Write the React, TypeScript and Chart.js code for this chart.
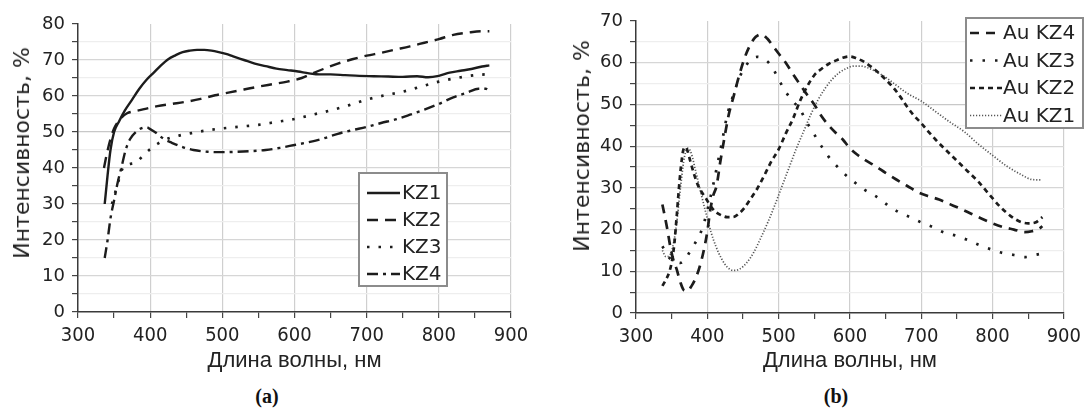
import React, { useEffect, useRef } from 'react';
import { Chart, registerables } from 'chart.js';

Chart.register(...registerables);

// ---------- (a) ----------
const kz1Wavelength = [337, 341, 345, 350, 357, 365, 375, 385, 395, 405, 415, 425, 435, 445, 455, 465, 475, 485, 495, 505, 515, 530, 545, 560, 575, 590, 605, 620, 635, 650, 670, 690, 710, 730, 750, 770, 785, 800, 815, 830, 845, 860, 870];
const kz1Intensity = [30, 38, 45, 50, 53, 56, 59, 62, 64.5, 66.5, 68.5, 70.2, 71.3, 72.2, 72.6, 72.8, 72.8, 72.6, 72.2, 71.7, 71, 70, 69, 68.3, 67.6, 67.2, 66.8, 66.3, 66, 66, 65.8, 65.6, 65.5, 65.4, 65.3, 65.5, 65.2, 65.6, 66.5, 67, 67.5, 68.2, 68.5];

const kz2Wavelength = [336, 340, 345, 350, 358, 368, 380, 395, 410, 430, 450, 470, 490, 510, 530, 550, 570, 590, 610, 625, 640, 660, 680, 700, 720, 740, 760, 780, 800, 820, 840, 860, 870];
const kz2Intensity = [40, 44, 48, 51, 53.5, 55.2, 55.8, 56.5, 57.2, 57.8, 58.4, 59.2, 60.2, 61, 61.8, 62.6, 63.3, 64, 65, 66.3, 67.5, 69, 70.2, 71.2, 72, 72.9, 73.8, 74.8, 75.8, 77, 77.6, 78, 78];

const kz3Wavelength = [347, 352, 357, 362, 370, 380, 393, 407, 425, 440, 460, 480, 500, 525, 550, 575, 600, 625, 650, 675, 700, 725, 750, 775, 800, 825, 850, 865];
const kz3Intensity = [30, 33.5, 37, 40, 41, 41.5, 44, 46.3, 48.2, 49, 49.8, 50.5, 51, 51.5, 52, 52.8, 53.6, 54.8, 56, 57.4, 59, 60.2, 61.2, 62.6, 64, 65, 65.8, 66];

const kz4Wavelength = [337, 341, 345, 350, 355, 360, 366, 372, 380, 390, 395, 400, 408, 418, 430, 445, 460, 480, 500, 520, 540, 560, 580, 600, 620, 640, 660, 680, 700, 720, 740, 760, 780, 800, 820, 840, 855, 865, 870];
const kz4Intensity = [15, 20, 26, 31, 36, 40, 45, 48, 50, 51.2, 51.3, 50.8, 49.8, 48.2, 47, 45.8, 45, 44.5, 44.4, 44.5, 44.7, 45, 45.6, 46.4, 47.2, 48.2, 49.5, 50.5, 51.4, 52.5, 53.5, 54.8, 56.2, 57.8, 59.6, 61, 62, 62, 61.5];

// ---------- (b) ----------
const auKz4Wavelength = [337, 340, 344, 348, 352, 357, 362, 367, 372, 378, 384, 390, 395, 400, 404, 408, 413, 418, 424, 430, 437, 444, 452, 460, 468, 476, 484, 492, 500, 510, 520, 530, 540, 550, 560, 570, 580, 590, 600, 610, 620, 635, 650, 665, 680, 695, 710, 725, 740, 755, 770, 785, 800, 815, 830, 845, 855, 865, 870];
const auKz4Intensity = [26, 23.5, 20, 16, 13, 10.5, 7.5, 5.5, 5.3, 6.5, 8.5, 11.5, 15, 19.5, 24.5, 28, 30.5, 36, 42, 47.5, 52, 56.5, 61, 64.2, 66.2, 66.8, 65.8, 64, 62.2, 60, 57.3, 54.8, 52.3, 50, 47.2, 45, 43.2, 41.6, 39.5, 38, 36.8, 35.3, 33.6, 32, 30.5, 29, 28, 27.2, 26.1, 25, 23.8, 22.6, 21.5, 20.6, 20, 19.4, 19.6, 20.2, 20.8];

const auKz3Wavelength = [337, 342, 348, 355, 362, 368, 375, 382, 390, 396, 402, 408, 414, 420, 428, 436, 446, 455, 463, 470, 478, 486, 494, 502, 510, 520, 530, 540, 550, 560, 570, 580, 592, 606, 620, 638, 652, 668, 684, 700, 716, 732, 749, 765, 781, 797, 814, 830, 846, 862, 868];
const auKz3Intensity = [16, 14.5, 13, 12.5, 12, 12.7, 14.5, 16.5, 19, 22, 26, 30.5, 35.5, 40.5, 47.5, 52, 56.8, 59.5, 61, 61.4, 61, 60, 58, 55.4, 53, 50.8, 48.8, 45.6, 42.8, 40, 37.5, 35.5, 33.4, 31.4, 29.6, 27.8, 26, 24.2, 23, 21.7, 20.6, 19.3, 18.5, 17.5, 16.3, 15.3, 14.4, 13.9, 13.4, 14, 14.2];

const auKz2Wavelength = [337, 342, 347, 351, 354, 357, 360, 363, 366, 369, 372, 376, 381, 386, 392, 398, 405, 412, 420, 428, 436, 444, 452, 460, 470, 480, 490, 500, 510, 520, 530, 540, 550, 560, 570, 580, 590, 600, 610, 620, 630, 640, 650, 660, 670, 680, 690, 700, 710, 720, 735, 750, 765, 780, 795, 810, 825, 840, 850, 860, 870];
const auKz2Intensity = [6.5, 8, 10, 13, 17, 23, 29.5, 35, 38.8, 39.8, 39, 36.5, 33.5, 31, 29, 27.5, 25.5, 24.2, 23.4, 23, 23, 23.8, 25.2, 27.2, 29.8, 33, 36.4, 39.2, 43, 46.5, 50.8, 54.3, 57, 58.5, 59.7, 60.5, 61.2, 61.5, 61, 60.2, 59, 57.6, 56, 54.2, 52, 49.5, 47.3, 45.5, 43.5, 41.6, 39, 36.5, 34, 31.5, 28.5, 25.6, 23.3, 21.8, 21.5, 21.7, 23];

const auKz1Wavelength = [337, 342, 348, 353, 358, 363, 368, 373, 378, 383, 390, 398, 405, 412, 420, 428, 436, 445, 455, 465, 475, 485, 495, 505, 515, 525, 535, 545, 555, 565, 575, 585, 595, 605, 615, 625, 635, 650, 665, 680, 700, 720, 740, 760, 780, 800, 820, 840, 855, 868];
const auKz1Intensity = [15, 13.5, 14, 17, 23, 31, 37.5, 39.5, 38, 34.5, 29.5, 24, 19.5, 16, 13, 11, 10.2, 10.5, 12, 14.5, 18, 21.8, 26, 30.5, 35, 39.5, 43.5, 47.5, 51, 53.8, 56, 57.6, 58.6, 59.2, 59.2, 58.8, 58, 56.5, 54.6, 52.7, 50.8, 48.3, 45.8, 43.5, 40.5, 37.8, 35.2, 33.2, 32, 31.9];

// ---------- ticks / labels ----------
const xTickLabels = [300, 400, 500, 600, 700, 800, 900];
const yTickLabelsA = [0, 10, 20, 30, 40, 50, 60, 70, 80];
const yTickLabelsB = [0, 10, 20, 30, 40, 50, 60, 70];
const xAxisTitle = 'Длина волны, нм';
const yAxisTitle = 'Интенсивность, %';
const captionA = '(a)';
const captionB = '(b)';

const pts = (xs: number[], ys: number[]) => xs.map((x, i) => ({ x, y: ys[i] }));

const boxLegend = {
  id: 'boxLegend',
  afterDatasetsDraw(chart: any, _args: any, opts: any) {
    const { ctx } = chart;
    const { x, y, w, h, firstRow, rowH, sampleX, sampleW, textX, font } = opts;
    ctx.save();
    ctx.fillStyle = '#ffffff';
    ctx.fillRect(x, y, w, h);
    ctx.strokeStyle = '#8c8c8c';
    ctx.lineWidth = 2;
    ctx.strokeRect(x, y, w, h);
    chart.data.datasets.forEach((ds: any, i: number) => {
      const cy = y + firstRow + i * rowH;
      ctx.beginPath();
      ctx.setLineDash(ds.borderDash || []);
      ctx.lineWidth = ds.borderWidth;
      ctx.strokeStyle = ds.borderColor;
      ctx.moveTo(x + sampleX, cy);
      ctx.lineTo(x + sampleX + sampleW, cy);
      ctx.stroke();
      ctx.setLineDash([]);
      ctx.fillStyle = '#222222';
      ctx.font = font;
      ctx.textBaseline = 'middle';
      ctx.textAlign = 'left';
      ctx.fillText(ds.label, x + textX, cy + 1);
    });
    ctx.restore();
  },
};

const W = 545;
const H = 378;

function makeConfig(datasets: any[], yMax: number, yLabels: number[], plotTop: number, plotBottom: number, plotRight: number, canvasW: number, legend: any) {
  return {
    type: 'line' as const,
    data: { datasets },
    plugins: [boxLegend],
    options: {
      animation: false,
      responsive: false,
      devicePixelRatio: 1,
      layout: { padding: { left: 0, top: plotTop, right: canvasW - plotRight, bottom: 0 } },
      elements: { point: { radius: 0 }, line: { cubicInterpolationMode: 'monotone', fill: false } },
      plugins: {
        legend: { display: false },
        tooltip: { enabled: false },
        boxLegend: legend,
      },
      scales: {
        x: {
          type: 'linear',
          min: 300,
          max: 900,
          afterFit: (s: any) => { s.height = H - plotBottom; },
          border: { display: true, color: '#3a3a3a', width: 1.5 },
          grid: {
            color: (c: any) => (c.tick && c.tick.value % 100 === 0 && c.tick.value !== 300 ? '#cfcfcf' : 'rgba(0,0,0,0)'),
            lineWidth: 1.2,
            tickColor: '#444',
            tickLength: 6,
          },
          ticks: {
            stepSize: 50,
            autoSkip: false,
            maxRotation: 0,
            padding: 6,
            color: '#222',
            font: { family: "'Liberation Sans Narrow', 'DejaVu Sans Condensed', sans-serif", size: 20 },
            callback: (v: any) => (xTickLabels.includes(v) ? String(v) : ''),
          },
          title: {
            display: true,
            text: xAxisTitle,
            color: '#222',
            font: { family: "'Liberation Sans', Arial, sans-serif", size: 22 },
            padding: { top: 0, bottom: 4 },
          },
        },
        y: {
          type: 'linear',
          min: 0,
          max: yMax,
          afterFit: (s: any) => { s.width = 78; },
          border: { display: true, color: '#3a3a3a', width: 1.5 },
          grid: {
            color: (c: any) => {
              const v = c.tick ? c.tick.value : -1;
              if (v === yMax || v === 0) return 'rgba(0,0,0,0)';
              if (v === 50) return '#c8c8c8';
              return v % 10 === 0 ? '#d6d6d6' : '#eeeeee';
            },
            lineWidth: 1.2,
            tickColor: '#444',
            tickLength: 6,
          },
          ticks: {
            stepSize: 5,
            autoSkip: false,
            padding: 7,
            color: '#222',
            font: { family: "'DejaVu Sans', sans-serif", size: 18 },
            callback: (v: any) => (yLabels.includes(v) ? String(v) : ''),
          },
        },
      },
    },
  };
}

function ChartCanvas({ config, left, width }: { config: any; left: number; width: number }) {
  const ref = useRef<HTMLCanvasElement | null>(null);
  useEffect(() => {
    if (!ref.current) return;
    const chart = new Chart(ref.current, config);
    return () => chart.destroy();
  }, [config]);
  return <canvas ref={ref} width={width} height={H} style={{ position: 'absolute', left, top: 0, width, height: H }} />;
}

const black = '#1c1c1c';

const datasetsA = [
  { label: 'KZ1', data: pts(kz1Wavelength, kz1Intensity), borderColor: black, borderWidth: 2.4, borderDash: [] },
  { label: 'KZ2', data: pts(kz2Wavelength, kz2Intensity), borderColor: black, borderWidth: 2.4, borderDash: [11, 7] },
  { label: 'KZ3', data: pts(kz3Wavelength, kz3Intensity), borderColor: black, borderWidth: 2.7, borderDash: [2.5, 9] },
  { label: 'KZ4', data: pts(kz4Wavelength, kz4Intensity), borderColor: black, borderWidth: 2.4, borderDash: [11, 5, 3, 5] },
];

const datasetsB = [
  { label: 'Au KZ4', data: pts(auKz4Wavelength, auKz4Intensity), borderColor: black, borderWidth: 2.7, borderDash: [9, 7] },
  { label: 'Au KZ3', data: pts(auKz3Wavelength, auKz3Intensity), borderColor: black, borderWidth: 2.7, borderDash: [2.5, 10] },
  { label: 'Au KZ2', data: pts(auKz2Wavelength, auKz2Intensity), borderColor: black, borderWidth: 2.7, borderDash: [5, 4] },
  { label: 'Au KZ1', data: pts(auKz1Wavelength, auKz1Intensity), borderColor: '#555555', borderWidth: 1.7, borderDash: [1.2, 1.8] },
];

const WB = 529;

const configA = makeConfig(datasetsA, 80, yTickLabelsA, 24, 312, 511, W, {
  x: 359, y: 173, w: 88, h: 113, firstRow: 20, rowH: 27, sampleX: 8, sampleW: 33, textX: 43,
  font: "20px 'DejaVu Sans', sans-serif",
});
const configB = makeConfig(datasetsB, 70, yTickLabelsB, 21, 313, 511, WB, {
  x: 408, y: 18, w: 117, h: 110, firstRow: 15, rowH: 27.5, sampleX: 4, sampleW: 32, textX: 37,
  font: "20px 'DejaVu Sans', sans-serif",
});

const yTitleStyle = (cx: number, cy: number): React.CSSProperties => ({
  position: 'absolute',
  left: cx,
  top: cy,
  transform: 'translate(-50%, -50%) rotate(-90deg)',
  whiteSpace: 'nowrap',
  fontFamily: "'DejaVu Sans', sans-serif",
  fontSize: 22,
  color: '#222',
  lineHeight: 1,
});

const captionStyle = (cx: number): React.CSSProperties => ({
  position: 'absolute',
  left: cx,
  top: 396,
  transform: 'translate(-50%, -50%)',
  fontFamily: "'Liberation Serif', serif",
  fontWeight: 'bold',
  fontSize: 20,
  color: '#111',
  lineHeight: 1,
});

export default function App() {
  return (
    <div style={{ position: 'absolute', left: 0, top: 0, width: 1087, height: 410, overflow: 'hidden', background: '#fff' }}>
      <ChartCanvas config={configA} left={0} width={W} />
      <ChartCanvas config={configB} left={558} width={WB} />
      <div style={yTitleStyle(22, 153)}>{yAxisTitle}</div>
      <div style={yTitleStyle(582, 146)}>{yAxisTitle}</div>
      <div style={captionStyle(267)}>{captionA}</div>
      <div style={captionStyle(836)}>{captionB}</div>
    </div>
  );
}
